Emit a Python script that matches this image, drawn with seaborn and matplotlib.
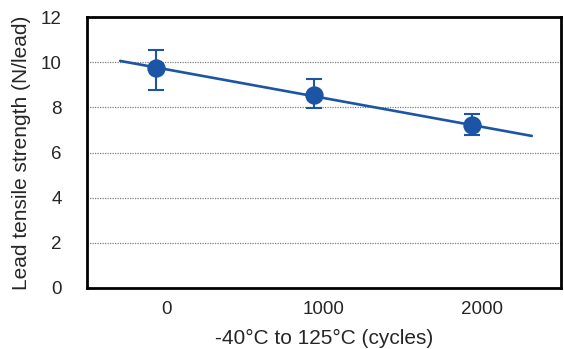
import numpy as np
import pandas as pd
import matplotlib
matplotlib.use("Agg")
import matplotlib.pyplot as plt
import seaborn as sns

# Data
cycles = ["0", "1000", "2000"]
strength_mean = [9.75, 8.53, 7.20]
strength_upper = [10.56, 9.24, 7.69]
strength_lower = [8.76, 7.99, 6.79]
y_ticks = [0, 2, 4, 6, 8, 10, 12]

sns.set_style("white")
plt.rcParams["font.family"] = ["Liberation Sans", "DejaVu Sans"]

BLUE = "#1C55A6"
pos = np.arange(len(cycles))
offset = -0.065
xs = pos + offset

df = pd.DataFrame({"x": xs, "y": strength_mean})

# linear trend extended beyond the points
coef = np.polyfit(xs, strength_mean, 1)
tx = np.array([xs[0] - 0.225, xs[-1] + 0.38])
trend = pd.DataFrame({"x": tx, "y": np.polyval(coef, tx)})

fig = plt.figure(figsize=(5.64, 3.49), dpi=100)
ax = fig.add_axes([87 / 564, 61 / 349, (561 - 87) / 564, (288 - 17) / 349])

for v in y_ticks[1:-1]:
    ax.axhline(v, color="#808080", lw=0.9, ls=(0, (1, 1)), zorder=0)

sns.lineplot(data=trend, x="x", y="y", ax=ax, color=BLUE, lw=1.9, zorder=2)
yerr = [np.array(strength_mean) - np.array(strength_lower),
        np.array(strength_upper) - np.array(strength_mean)]
ax.errorbar(xs, strength_mean, yerr=yerr, fmt="none", ecolor=BLUE,
            elinewidth=1.5, capsize=6, capthick=1.5, zorder=3)
sns.scatterplot(data=df, x="x", y="y", ax=ax, color=BLUE, s=175,
                edgecolor=BLUE, linewidth=0, zorder=4, legend=False)

ax.set_xlim(-0.5, len(cycles) - 0.5)
ax.set_ylim(0, 12)
ax.set_yticks(y_ticks)
ax.set_yticklabels([str(v) for v in y_ticks], fontsize=13.5)
ax.tick_params(axis="y", length=0, pad=18)

ax.set_xticks(pos)
ax.set_xticklabels(cycles, fontsize=13.5)
ax.set_xticks(pos[:-1] + 0.5, minor=True)
ax.tick_params(axis="x", which="major", length=0, pad=9)
ax.tick_params(axis="x", which="minor", direction="in", length=6, width=1.5,
               color="black")

for s in ax.spines.values():
    s.set_visible(True)
    s.set_color("black")
    s.set_linewidth(2)

ax.set_xlabel("-40°C to 125°C (cycles)", fontsize=15, labelpad=8)
ax.set_ylabel("Lead tensile strength (N/lead)", fontsize=15, labelpad=7)

fig.savefig("out.png", dpi=100)
